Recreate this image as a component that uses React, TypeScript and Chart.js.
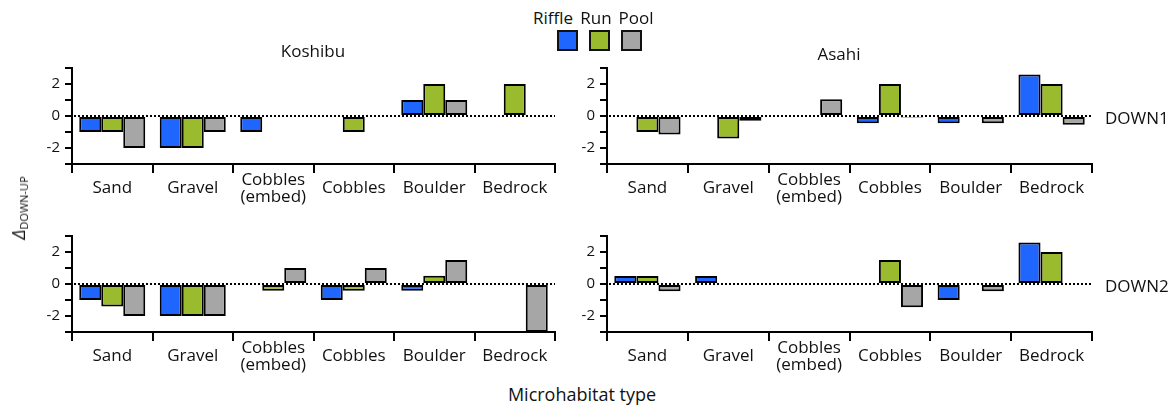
import React, { useEffect, useRef } from "react";
import { Chart, registerables } from "chart.js";

Chart.register(...registerables);

const categories: (string | string[])[] = ["Sand", "Gravel", ["Cobbles", "(embed)"], "Cobbles", "Boulder", "Bedrock"];
const seriesNames = ["Riffle", "Run", "Pool"];
const seriesColors = ["#1F66FF", "#9BBB2F", "#A6A6A6"];
const yTickLabels = ["-2", "0", "2"];

const koshibuDown1Riffle = [-1, -2, -1, null, 1, null];
const koshibuDown1Run = [-1, -2, null, -1, 2, 2];
const koshibuDown1Pool = [-2, -1, null, null, 1, null];

const asahiDown1Riffle = [null, null, null, -0.45, -0.45, 2.6];
const asahiDown1Run = [-1, -1.4, null, 2, null, 2];
const asahiDown1Pool = [-1.15, -0.3, 1.05, -0.1, -0.45, -0.55];

const koshibuDown2Riffle = [-1, -2, null, -1, -0.42, null];
const koshibuDown2Run = [-1.4, -2, -0.42, -0.42, 0.52, null];
const koshibuDown2Pool = [-2, -2, 1, 1, 1.5, -3];

const asahiDown2Riffle = [0.5, 0.5, null, null, -1, 2.6];
const asahiDown2Run = [0.5, null, null, 1.5, null, 2];
const asahiDown2Pool = [-0.45, null, null, -1.45, -0.45, null];

const FONT = "'Open Sans', 'Noto Sans', sans-serif";

const zeroLine = {
  id: "zeroLine",
  beforeDatasetsDraw(chart: any) {
    const { ctx, chartArea, scales } = chart;
    const y = scales.y.getPixelForValue(0);
    ctx.save();
    ctx.strokeStyle = "#000";
    ctx.lineWidth = 2;
    ctx.setLineDash([2, 2]);
    ctx.beginPath();
    ctx.moveTo(chartArea.left + 2, y);
    ctx.lineTo(chartArea.right, y);
    ctx.stroke();
    ctx.restore();
  },
};

type PanelProps = { left: number; top: number; right: number; bottom: number; series: (number | null)[][] };

function Panel({ left, top, right, bottom, series }: PanelProps) {
  const ref = useRef<HTMLCanvasElement>(null);
  const padL = 50, padT = 20, padR = 10, padB = 50;
  const w = right - left + padL + padR;
  const h = bottom - top + padT + padB;
  useEffect(() => {
    const chart = new Chart(ref.current!, {
      type: "bar",
      data: {
        labels: categories as any,
        datasets: series.map((d, i) => ({
          label: seriesNames[i],
          data: d as any,
          backgroundColor: seriesColors[i],
          borderColor: "#000",
          borderWidth: 2,
          borderSkipped: false,
          categoryPercentage: 0.82,
          barPercentage: 1.0,
        })),
      },
      options: {
        animation: false,
        responsive: false,
        maintainAspectRatio: false,
        layout: { padding: { top: padT, right: padR, left: 0, bottom: 0 } },
        plugins: { legend: { display: false }, tooltip: { enabled: false } },
        scales: {
          x: {
            afterFit: (s: any) => { s.height = padB; },
            grid: { display: true, drawOnChartArea: false, drawTicks: true, tickLength: 9, color: "#000", lineWidth: 2, offset: true },
            border: { display: true, color: "#000", width: 2 },
            ticks: { color: "#111", font: { family: FONT, size: 17, lineHeight: 1.0 }, padding: 7, crossAlign: "center", maxRotation: 0, autoSkip: false },
          },
          y: {
            min: -3,
            max: 3,
            afterFit: (s: any) => { s.width = padL; },
            grid: { display: true, drawOnChartArea: false, drawTicks: true, tickLength: 7, color: "#000", lineWidth: 2 },
            border: { display: true, color: "#000", width: 2 },
            ticks: {
              stepSize: 1,
              autoSkip: false,
              color: "#111",
              font: { family: FONT, size: 15 },
              padding: 5,
              callback: (v: any) => (yTickLabels.includes(String(v)) ? String(v) : ""),
            },
          },
        },
      },
      plugins: [zeroLine],
    });
    return () => chart.destroy();
  }, []);
  return (
    <div style={{ position: "absolute", left: left - padL, top: top - padT, width: w, height: h }}>
      <canvas ref={ref} width={w} height={h} style={{ width: w, height: h }} />
    </div>
  );
}

const txt = (extra: React.CSSProperties): React.CSSProperties => ({
  position: "absolute",
  fontFamily: FONT,
  color: "#111",
  whiteSpace: "nowrap",
  lineHeight: 1,
  ...extra,
});

export default function App() {
  return (
    <div style={{ position: "absolute", left: 0, top: 0, width: 1176, height: 407, background: "#fff", overflow: "hidden" }}>
      <Panel left={72} top={68} right={555} bottom={164} series={[koshibuDown1Riffle, koshibuDown1Run, koshibuDown1Pool]} />
      <Panel left={607} top={68} right={1092} bottom={164} series={[asahiDown1Riffle, asahiDown1Run, asahiDown1Pool]} />
      <Panel left={72} top={236} right={555} bottom={332} series={[koshibuDown2Riffle, koshibuDown2Run, koshibuDown2Pool]} />
      <Panel left={607} top={236} right={1092} bottom={332} series={[asahiDown2Riffle, asahiDown2Run, asahiDown2Pool]} />

      <div style={txt({ left: 313, top: 50, fontSize: 17, transform: "translate(-50%,-50%)" })}>Koshibu</div>
      <div style={txt({ left: 839, top: 53, fontSize: 17, transform: "translate(-50%,-50%)" })}>Asahi</div>
      <div style={txt({ left: 1105, top: 117, fontSize: 17, transform: "translate(0,-50%)" })}>DOWN1</div>
      <div style={txt({ left: 1105, top: 285, fontSize: 17, transform: "translate(0,-50%)" })}>DOWN2</div>
      <div style={txt({ left: 582, top: 394, fontSize: 18, transform: "translate(-50%,-50%)" })}>Microhabitat type</div>

      {seriesNames.map((n, i) => (
        <React.Fragment key={n}>
          <div style={txt({ left: [553, 596, 636][i], top: 17, fontSize: 17, transform: "translate(-50%,-50%)" })}>{n}</div>
          <div style={{ position: "absolute", left: [557, 589, 621][i], top: 30, width: 17, height: 17, background: seriesColors[i], border: "2px solid #111" }} />
        </React.Fragment>
      ))}

      <div style={txt({ left: 19, top: 208, fontSize: 18, transform: "translate(-50%,-50%) rotate(-90deg)" })}>
        <span style={{ fontStyle: "italic" }}>Δ</span>
        <sub style={{ fontSize: 11, verticalAlign: "-3px" }}>DOWN-UP</sub>
      </div>
    </div>
  );
}
